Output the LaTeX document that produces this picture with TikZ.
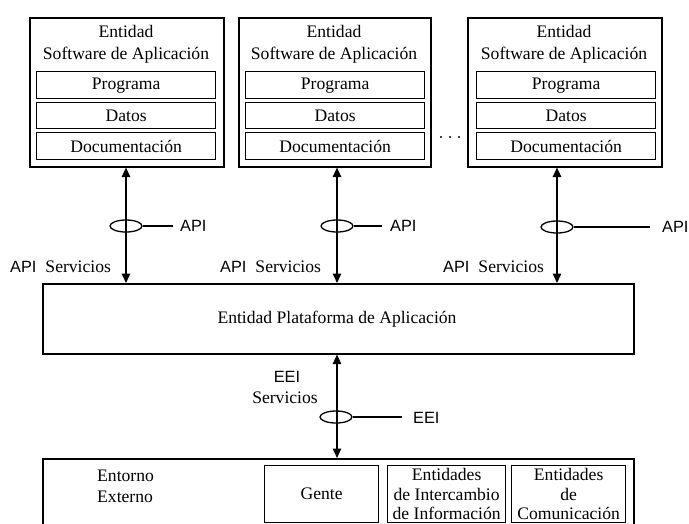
\documentclass[tikz,border=0pt]{standalone}
\usepackage{fontspec}
\setmainfont{Liberation Serif}
\newfontfamily\apifont{Liberation Sans}
\usetikzlibrary{arrows.meta,shapes.geometric}

\newcommand{\apiserv}{{\apifont\fontsize{16.3}{19}\selectfont API}\hspace{9pt}{\fontsize{17.6}{19}\selectfont Servicios}}

\tikzset{
  frame/.style={draw, line width=1.6pt, inner sep=0pt, anchor=north west},
  part/.style={draw, line width=1.3pt, inner sep=0pt, anchor=north west, font=\fontsize{17.6}{19}\selectfont},
  title/.style={font=\fontsize{17.6}{22}\selectfont, align=center, inner sep=0pt},
  sertext/.style={font=\fontsize{17.6}{21}\selectfont, inner sep=0pt},
  sanstext/.style={font=\apifont\fontsize{16.3}{19}\selectfont, inner sep=0pt},
  link/.style={line width=1.4pt, {Triangle[width=8.5pt,length=9.5pt]}-{Triangle[width=8.5pt,length=9.5pt]}},
  ring/.style={draw, ellipse, line width=1.3pt, minimum width=32pt, minimum height=12pt, inner sep=0pt},
  tick/.style={line width=1.3pt}
}

\begin{document}
\begin{tikzpicture}[x=1pt,y=-1pt]
\useasboundingbox (0,0) rectangle (689,523);
\clip (0,0) rectangle (689,523);

% three application software entities
\foreach \n/\xl/\xr/\il/\ir in {1/29/223/36/215, 2/238/430/245/424, 3/467/661/476/655}{
  \pgfmathsetmacro{\w}{\xr-\xl}
  \pgfmathsetmacro{\iw}{\ir-\il}
  \node[frame, minimum width=\w pt, minimum height=149pt] (sw\n) at (\xl,17) {};
  \node[title] (t\n) at ({(\xl+\xr)/2},44) {Entidad\\Software de Aplicación};
  \node[part, minimum width=\iw pt, minimum height=27pt] (p\n) at (\il,71) {Programa};
  \node[part, minimum width=\iw pt, minimum height=26pt] (d\n) at (\il,102) {Datos};
  \node[part, minimum width=\iw pt, minimum height=27pt] (c\n) at (\il,132) {Documentación};
}

% ellipsis between the second and third entity
\fill (441,137) circle (1.1) (450,137) circle (1.1) (459,137) circle (1.1);

% application platform
\node[frame, minimum width=591pt, minimum height=70pt] (plat) at (42,283) {};
\node[sertext] (platlbl) at (337,319) {Entidad Plataforma de Aplicación};

% external environment
\node[frame, minimum width=591pt, minimum height=90pt] (ext) at (42,458) {};
\node[title, align=left, anchor=north west, font=\fontsize{17.6}{21}\selectfont] (extlbl) at (97,470) {Entorno\\Externo};
\node[part, minimum width=114pt, minimum height=57pt] (gente) at (264,465) {Gente};
\node[part, minimum width=118pt, minimum height=57pt, align=center,
      font=\fontsize{17.6}{19.5}\selectfont] (inter) at (387,465)
      {Entidades\\de Intercambio\\de Información};
\node[part, minimum width=114pt, minimum height=57pt, align=center,
      font=\fontsize{17.6}{19.5}\selectfont] (comm) at (511,465)
      {Entidades\\de\\Comunicación};

% arrow columns
\coordinate (x1) at (126,0);
\coordinate (x2) at (337,0);
\coordinate (x3) at (557,0);

\draw[link] (sw1.south -| x1) -- (plat.north -| x1);
\draw[link] (sw2.south -| x2) -- (plat.north -| x2);
\draw[link] (sw3.south -| x3) -- (plat.north -| x3);
\draw[link] (plat.south -| x2) -- (ext.north -| x2);

% API interfaces
\node[ring] (r1) at (126,226) {};
\node[ring] (r2) at (337,226) {};
\node[ring] (r3) at (557,227) {};
\node[sanstext, anchor=west] (api1) at (180,226) {API};
\node[sanstext, anchor=west] (api2) at (390,226) {API};
\node[sanstext, anchor=west] (api3) at (662,227) {API};
\coordinate (e1) at (173,226);
\coordinate (e2) at (382,226);
\coordinate (e3) at (650,227);
\draw[tick] (r1.east) -- (e1);
\draw[tick] (r2.east) -- (e2);
\draw[tick] (r3.east) -- (e3);

\node[anchor=west, inner sep=0pt] (s1) at (10,267) {\apiserv};
\node[anchor=west, inner sep=0pt] (s2) at (220,267) {\apiserv};
\node[anchor=west, inner sep=0pt] (s3) at (443,267) {\apiserv};

% EEI interface
\node[ring] (r4) at (336,417) {};
\coordinate (e4) at (402,417);
\draw[tick] (r4.east) -- (e4);
\node[sanstext, anchor=west] (eei) at (413,418) {EEI};
\node[sanstext] (eeis) at (287,377) {EEI};
\node[sertext] (eeiserv) at (285,398) {Servicios};
\end{tikzpicture}
\end{document}
